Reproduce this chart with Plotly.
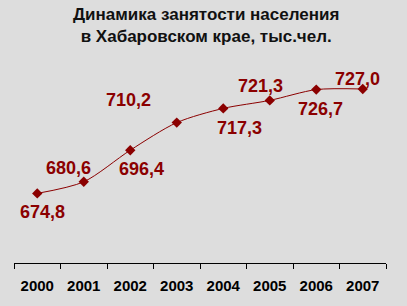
import plotly.graph_objects as go

years = ["2000", "2001", "2002", "2003", "2004", "2005", "2006", "2007"]
values = [674.8, 680.6, 696.4, 710.2, 717.3, 721.3, 726.7, 727.0]
labels = ["674,8", "680,6", "696,4", "710,2", "717,3", "721,3", "726,7", "727,0"]
# label offsets (px) relative to each point
offsets = [(5, -19), (-15, 14), (11, -19), (-48, 23), (16, -20), (-9, 14), (4, -19), (-5, 10)]

RED = "#8B0000"
fig = go.Figure()
fig.add_trace(go.Scatter(
    x=years, y=values, mode="lines+markers",
    line=dict(color=RED, width=1, shape="spline", smoothing=0.8),
    marker=dict(symbol="diamond", size=8, color=RED),
    hoverinfo="skip", showlegend=False,
))
for i, (v, lab, (dx, dy)) in enumerate(zip(values, labels, offsets)):
    fig.add_annotation(x=i, y=v, xref="x", yref="y", text=lab, showarrow=False,
                       xshift=dx, yshift=dy,
                       font=dict(family="Liberation Sans, Arial", size=18, color=RED, weight="bold"))

fig.add_annotation(xref="paper", yref="paper", x=0.515, y=1, yanchor="bottom", xanchor="center",
                   yshift=15,
                   text="Динамика занятости населения<br>в Хабаровском крае, тыс.чел.",
                   showarrow=False,
                   font=dict(family="Liberation Sans, Arial", size=17, color="#111111", weight="bold"))

fig.update_layout(
    width=407, height=306,
    margin=dict(l=14, r=21, t=63, b=37),
    paper_bgcolor="#DDDDDD", plot_bgcolor="#DDDDDD",
    xaxis=dict(type="category", range=[-0.5, 7.5], showline=True, linecolor="black", linewidth=1,
               ticks="outside", tickson="boundaries", ticklen=5, tickcolor="black",
               ticklabelstandoff=9,
               showgrid=False, zeroline=False,
               tickfont=dict(family="Liberation Sans, Arial", size=15, color="black", weight="bold")),
    yaxis=dict(range=[640, 740], visible=False, showgrid=False, zeroline=False),
)
fig.write_html("out.html")
